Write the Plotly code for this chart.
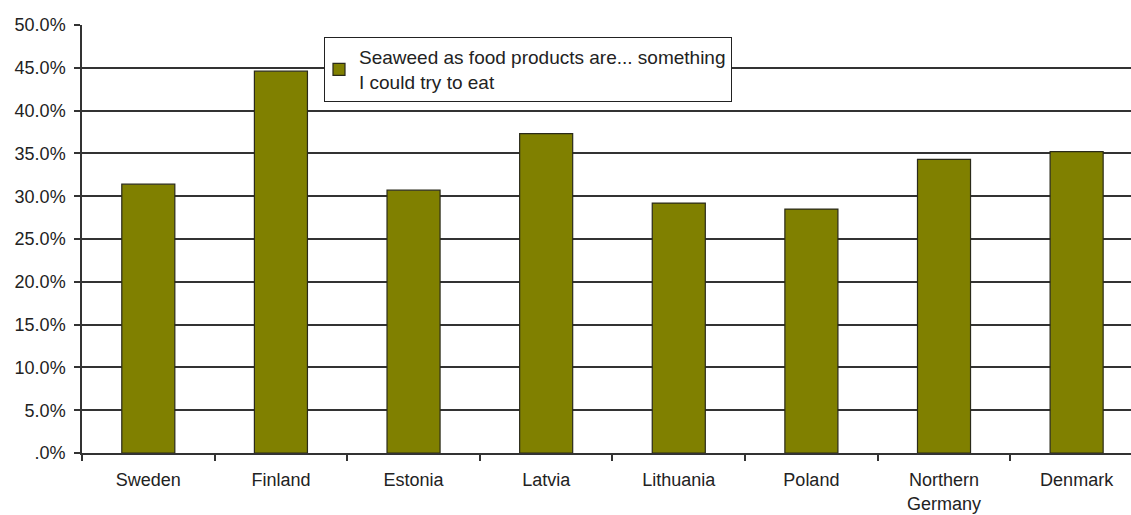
import plotly.graph_objects as go

countries = ["Sweden", "Finland", "Estonia", "Latvia", "Lithuania", "Poland",
             "Northern<br>Germany", "Denmark"]
share_pct = [31.4, 44.6, 30.7, 37.3, 29.2, 28.5, 34.3, 35.2]
series_name = "Seaweed as food products are... something<br>I could try to eat"

y_tick_vals = [0, 5, 10, 15, 20, 25, 30, 35, 40, 45, 50]
y_tick_text = [".0%", "5.0%", "10.0%", "15.0%", "20.0%", "25.0%", "30.0%",
               "35.0%", "40.0%", "45.0%", "50.0%"]

FONT = "Liberation Sans, Arial, sans-serif"
TEXT = "#222222"

fig = go.Figure()
fig.add_trace(go.Bar(
    x=countries,
    y=share_pct,
    name=series_name,
    marker=dict(color="#808000", line=dict(color="#2a2a1a", width=1.2)),
    width=0.4,
    showlegend=True,
))

fig.update_layout(
    width=1131, height=515,
    margin=dict(l=82, r=0, t=25, b=62),
    paper_bgcolor="white",
    plot_bgcolor="white",
    font=dict(family=FONT, size=18, color=TEXT),
    xaxis=dict(
        type="category",
        range=[-0.5, 7.41],
        showgrid=False,
        zeroline=False,
        showline=True,
        linecolor="#333333",
        linewidth=1.5,
        ticks="outside",
        tickson="boundaries",
        ticklen=6,
        tickcolor="#333333",
        tickwidth=1.5,
        ticklabelstandoff=10,
        tickfont=dict(size=18, color=TEXT),
    ),
    yaxis=dict(
        range=[0, 50],
        tickmode="array",
        tickvals=y_tick_vals,
        ticktext=y_tick_text,
        showgrid=True,
        gridcolor="#333333",
        gridwidth=1.5,
        zeroline=False,
        showline=True,
        linecolor="#333333",
        linewidth=1.5,
        ticks="outside",
        ticklen=6,
        tickcolor="#333333",
        tickwidth=1.5,
        ticklabelstandoff=5,
        tickfont=dict(size=18, color=TEXT),
    ),
    legend=dict(
        x=0.2305, y=0.972,
        xanchor="left", yanchor="top",
        bgcolor="white",
        bordercolor="#222222",
        borderwidth=1.2,
        font=dict(size=19, color=TEXT),
        itemwidth=30,
        tracegroupgap=0,
        indentation=-6,
    ),
    bargap=0.6,
)

fig.write_html("out.html")
